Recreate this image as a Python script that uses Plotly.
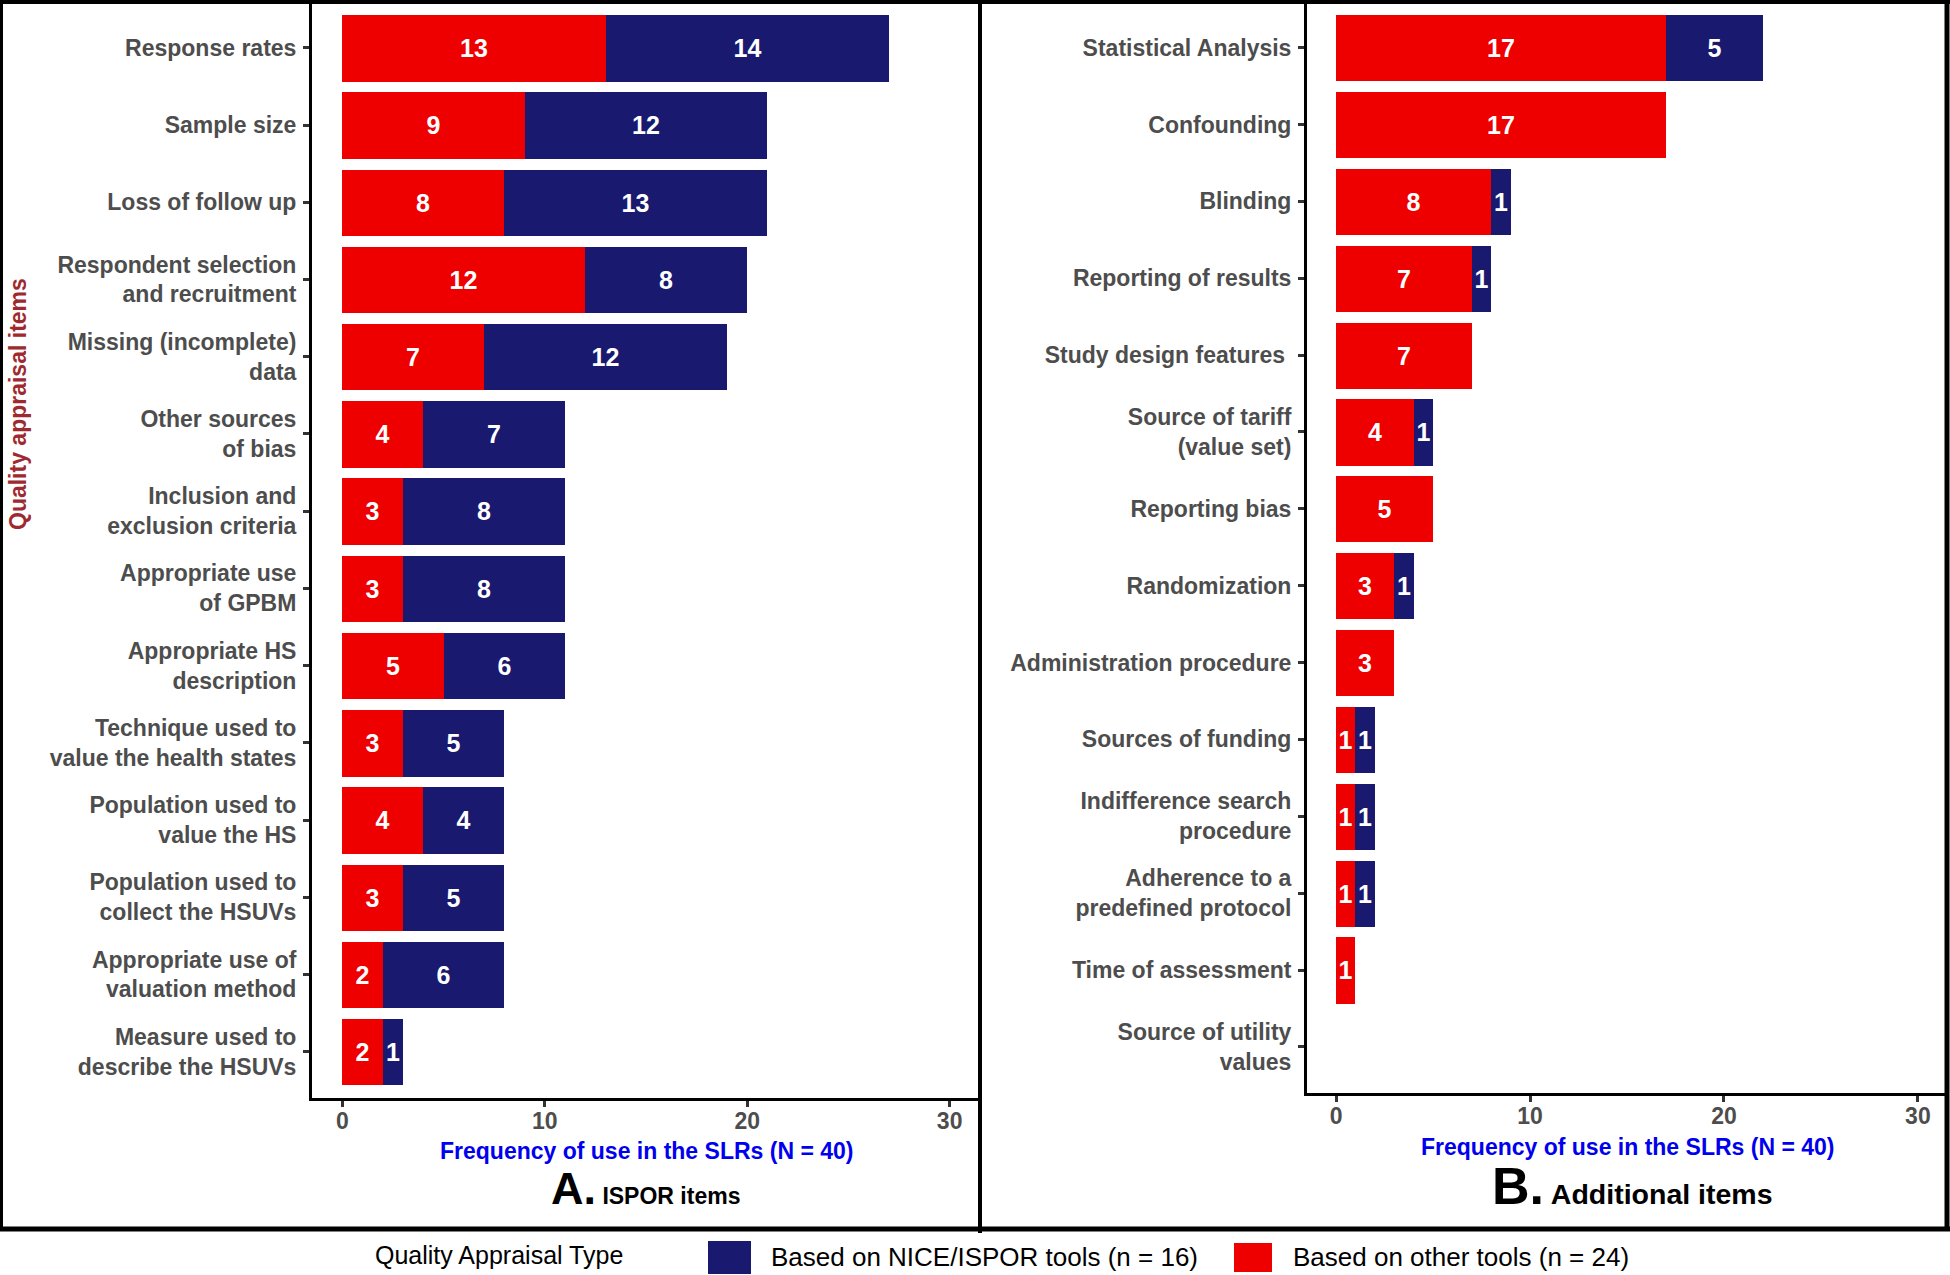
import plotly.graph_objects as go

# ---------------- data ----------------
items_a = [
    "Response rates", "Sample size", "Loss of follow up",
    "Respondent selection<br>and recruitment", "Missing (incomplete)<br>data",
    "Other sources<br>of bias", "Inclusion and<br>exclusion criteria",
    "Appropriate use<br>of GPBM", "Appropriate HS<br>description",
    "Technique used to<br>value the health states", "Population used to<br>value the HS",
    "Population used to<br>collect the HSUVs", "Appropriate use of<br>valuation method",
    "Measure used to<br>describe the HSUVs",
]
other_a = [13, 9, 8, 12, 7, 4, 3, 3, 5, 3, 4, 3, 2, 2]
nice_a = [14, 12, 13, 8, 12, 7, 8, 8, 6, 5, 4, 5, 6, 1]

items_b = [
    "Statistical Analysis", "Confounding", "Blinding", "Reporting of results",
    "Study design features\u00a0", "Source of tariff<br>(value set)", "Reporting bias",
    "Randomization", "Administration procedure", "Sources of funding",
    "Indifference search<br>procedure", "Adherence to a<br>predefined protocol",
    "Time of assessment", "Source of utility<br>values",
]
other_b = [17, 17, 8, 7, 7, 4, 5, 3, 3, 1, 1, 1, 1, 0]
nice_b = [5, 0, 1, 1, 0, 1, 0, 1, 0, 1, 1, 1, 0, 0]

x_ticks = [0, 10, 20, 30]
series_names = ["Based on NICE/ISPOR tools (n = 16)", "Based on other tools (n = 24)"]

RED = "#EE0000"
NAVY = "#191970"
FONT = "Liberation Sans, Arial, sans-serif"
W, H = 1950, 1275


def px(x):
    return x / W


def py(y):
    return 1 - y / H


def lbl(vals):
    return [str(v) if v > 0 else "" for v in vals]


fig = go.Figure()

bar_common = dict(
    orientation="h", width=0.86, textposition="inside", insidetextanchor="middle",
    textangle=0, constraintext="none", cliponaxis=False, showlegend=False,
    textfont=dict(family=FONT, size=25, color="white", weight="bold"),
    marker_line_width=0,
)

fig.add_trace(go.Bar(y=list(range(len(items_a))), x=other_a, text=lbl(other_a),
                     marker_color=RED, name=series_names[1], xaxis="x", yaxis="y", **bar_common))
fig.add_trace(go.Bar(y=list(range(len(items_a))), x=nice_a, text=lbl(nice_a),
                     marker_color=NAVY, name=series_names[0], xaxis="x", yaxis="y", **bar_common))
fig.add_trace(go.Bar(y=list(range(len(items_b))), x=other_b, text=lbl(other_b),
                     marker_color=RED, name=series_names[1], xaxis="x2", yaxis="y2", **bar_common))
fig.add_trace(go.Bar(y=list(range(len(items_b))), x=nice_b, text=lbl(nice_b),
                     marker_color=NAVY, name=series_names[0], xaxis="x2", yaxis="y2", **bar_common))

tick_font = dict(family=FONT, size=23, color="#4D4D4D", weight="bold")
xaxis_common = dict(
    range=[-1.5, 31.5], tickvals=x_ticks, ticktext=[str(t) for t in x_ticks],
    showgrid=False, zeroline=False, showline=True, linecolor="black", linewidth=3,
    ticks="outside", ticklen=6, tickwidth=2.5, tickcolor="#333333",
    tickfont=dict(family=FONT, size=23, color="#4D4D4D", weight="bold"),
    ticklabelstandoff=-6,
)
yaxis_common = dict(
    range=[13.6, -0.6], showgrid=False, zeroline=False, showline=True,
    linecolor="black", linewidth=3, ticks="outside", ticklen=6, tickwidth=2.5,
    tickcolor="#333333", tickfont=tick_font, tickmode="array", ticklabelstandoff=2,
)

fig.update_layout(
    width=W, height=H, margin=dict(l=0, r=0, t=0, b=0),
    paper_bgcolor="white", plot_bgcolor="white", barmode="stack", bargap=0,
    font=dict(family=FONT),
    xaxis=dict(domain=[px(312), px(980)], anchor="y", **xaxis_common),
    yaxis=dict(domain=[py(1098), py(1.5)], anchor="x",
               tickvals=list(range(len(items_a))), ticktext=items_a, **yaxis_common),
    xaxis2=dict(domain=[px(1307), px(1947)], anchor="y2", **xaxis_common),
    yaxis2=dict(domain=[py(1093), py(1.5)], anchor="x2",
                tickvals=list(range(len(items_b))), ticktext=items_b, **yaxis_common),
)

# frame lines
shapes = []
def hline(y, x0, x1, w):
    shapes.append(dict(type="line", xref="paper", yref="paper", x0=px(x0), x1=px(x1),
                       y0=py(y), y1=py(y), line=dict(color="black", width=w)))
def vline(x, y0, y1, w):
    shapes.append(dict(type="line", xref="paper", yref="paper", x0=px(x), x1=px(x),
                       y0=py(y0), y1=py(y1), line=dict(color="black", width=w)))

hline(2, 0, W, 4)
hline(1229, 0, W, 5)
vline(1.5, 0, 1229, 3)
vline(980, 0, 1233, 4)
vline(1947, 0, 1231, 5)

# legend swatches
shapes.append(dict(type="rect", xref="paper", yref="paper", x0=px(708), x1=px(751),
                   y0=py(1274), y1=py(1241), fillcolor=NAVY, line=dict(width=0)))
shapes.append(dict(type="rect", xref="paper", yref="paper", x0=px(1234), x1=px(1272),
                   y0=py(1272), y1=py(1243), fillcolor=RED, line=dict(width=0)))
fig.update_layout(shapes=shapes)

ann = []
def text(x, y, s, size, color="black", weight="normal", xanchor="center", angle=0):
    ann.append(dict(xref="paper", yref="paper", x=px(x), y=py(y), text=s, showarrow=False,
                    xanchor=xanchor, yanchor="middle", textangle=angle,
                    font=dict(family=FONT, size=size, color=color, weight=weight)))

text(18, 404, "Quality appraisal items", 23, "#9E2A2F", "bold", angle=-90)
text(646, 1151, "Frequency of use in the SLRs (N = 40)", 23, "#0000EE", "bold")
text(1627, 1147, "Frequency of use in the SLRs (N = 40)", 23, "#0000EE", "bold")
text(549, 1188, "<span style='font-size:45px'>A.</span> ISPOR items", 23, "black", "bold", xanchor="left")
text(1490, 1186, "<span style='font-size:52px'>B.</span> Additional items", 28.5, "black", "bold", xanchor="left")
text(373, 1255, "Quality Appraisal Type", 25, "black", xanchor="left")
text(769, 1257, series_names[0], 26, "black", xanchor="left")
text(1291, 1257, series_names[1], 26, "black", xanchor="left")
fig.update_layout(annotations=ann)

fig.write_html(
    "out.html",
    config={"displayModeBar": False},
    post_script="document.body.style.margin='0px';document.body.style.overflow='hidden';",
)
